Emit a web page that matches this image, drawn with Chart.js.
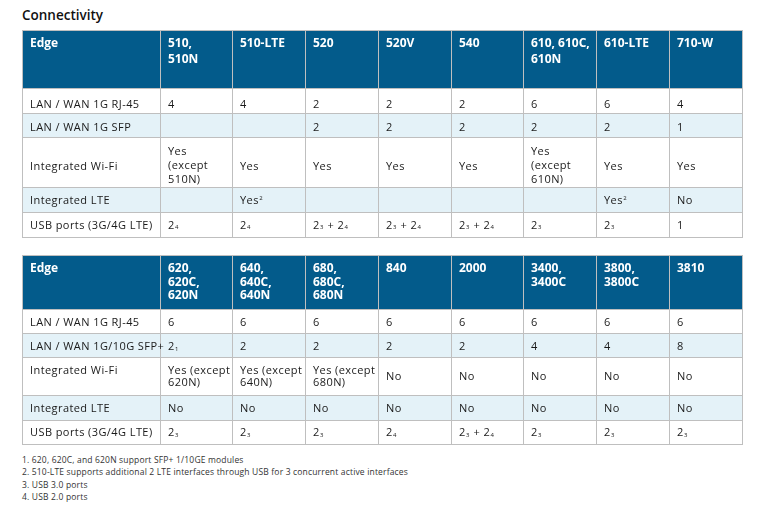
<!DOCTYPE html>
<html>
<head>
<meta charset="utf-8">
<script src="https://cdn.jsdelivr.net/npm/chart.js@4.4.1/dist/chart.umd.min.js"></script>
<style>
  html, body { margin: 0; padding: 0; background: #ffffff; width: 762px; height: 511px; overflow: hidden; }
  body { font-family: 'Open Sans', sans-serif; position: relative; }
  #title { position: absolute; left: 22px; top: 8px; font-size: 13.5px; line-height: 14px; font-weight: 600; color: #111111; white-space: nowrap; }
  .wrap { position: absolute; left: 22px; }
  .wrap canvas { display: block; }
  #notes { position: absolute; left: 22px; top: 454px; font-size: 8.5px; color: #333333; letter-spacing: 0.17px; }
  #notes div { height: 12.3px; line-height: 12.3px; white-space: nowrap; }
</style>
</head>
<body>
<div id="title">Connectivity</div>
<div class="wrap" style="top:30px"><canvas id="table1" width="721" height="208" style="width:721px;height:208px"></canvas></div>
<div class="wrap" style="top:255px"><canvas id="table2" width="721" height="190" style="width:721px;height:190px"></canvas></div>
<div id="notes"></div>

<script>
// ---------------- data ----------------
const titleText = "Connectivity";
const edgeLabel = "Edge";

// Table 1
const models1 = ["510,\n510N", "510-LTE", "520", "520V", "540", "610, 610C,\n610N", "610-LTE", "710-W"];
const rowLabels1 = ["LAN / WAN 1G RJ-45", "LAN / WAN 1G SFP", "Integrated Wi-Fi", "Integrated LTE", "USB ports (3G/4G LTE)"];
const rj45Ports1 = ["4", "4", "2", "2", "2", "6", "6", "4"];
const sfpPorts1  = ["", "", "2", "2", "2", "2", "2", "1"];
const wifi1      = ["Yes\n(except\n510N)", "Yes", "Yes", "Yes", "Yes", "Yes\n(except\n610N)", "Yes", "Yes"];
const lte1       = ["", "Yes^2", "", "", "", "", "Yes^2", "No"];
const usb1       = ["2_4", "2_4", "2_3 + 2_4", "2_3 + 2_4", "2_3 + 2_4", "2_3", "2_3", "1"];

// Table 2
const models2 = ["620,\n620C,\n620N", "640,\n640C,\n640N", "680,\n680C,\n680N", "840", "2000", "3400,\n3400C", "3800,\n3800C", "3810"];
const rowLabels2 = ["LAN / WAN 1G RJ-45", "LAN / WAN 1G/10G SFP+", "Integrated Wi-Fi", "Integrated LTE", "USB ports (3G/4G LTE)"];
const rj45Ports2 = ["6", "6", "6", "6", "6", "6", "6", "6"];
const sfpPorts2  = ["2_1", "2", "2", "2", "2", "4", "4", "8"];
const wifi2      = ["Yes (except\n620N)", "Yes (except\n640N)", "Yes (except\n680N)", "No", "No", "No", "No", "No"];
const lte2       = ["No", "No", "No", "No", "No", "No", "No", "No"];
const usb2       = ["2_3", "2_3", "2_3", "2_4", "2_3 + 2_4", "2_3", "2_3", "2_3"];

const footnotes = [
  "1. 620, 620C, and 620N support SFP+ 1/10GE modules",
  "2. 510-LTE supports additional 2 LTE interfaces through USB for 3 concurrent active interfaces",
  "3. USB 3.0 ports",
  "4. USB 2.0 ports"
];

// ---------------- layout / style ----------------
const FONT = "'Open Sans', sans-serif";
const BODY_SIZE = 11, HEAD_SIZE = 12, SMALL_SIZE = 6;
const BODY_SPACING = '0.42px', HEAD_SPACING = '0px';
const HEAD_BG = "#035b8b", ALT_BG = "#e4f2f8", BODY_BG = "#ffffff", GRID = "#bfbfbf";
const BODY_COLOR = "#1a1a1a", HEAD_COLOR = "#ffffff";
const PAD_X = 8;
const COL_EDGES = [0, 138, 210, 283, 356, 429, 501, 574, 647, 721];
const LAYOUT1 = { heights: [58, 25, 24, 50, 25, 26], headFirst: 13, headLH: 15.5,
                  shift: [0, 3.5, 2.5, 4.3, 0.5, 0], multiShift: 2.6, bodyLH: 14, topRow: -1 };
const LAYOUT2 = { heights: [54, 24, 24, 38, 25, 25], headFirst: 12.5, headLH: 13.8,
                  shift: [0, 1, 1.5, 0.5, 1, 0], multiShift: 0, bodyLH: 11.6, topRow: 3, topFirst: 13.4 };

// ---------------- text helpers ----------------
function drawRich(ctx, text, x, baseline, size, weight, color, spacing) {
  const parts = text.split(/([_^]\d)/);
  let cx = x;
  ctx.fillStyle = color;
  ctx.textBaseline = 'alphabetic';
  ctx.textAlign = 'left';
  if ('letterSpacing' in ctx) ctx.letterSpacing = spacing;
  for (const part of parts) {
    if (!part) continue;
    if (part[0] === '_' || part[0] === '^') {
      ctx.font = `${weight} ${SMALL_SIZE}px ${FONT}`;
      const dy = part[0] === '_' ? 0.3 : -3.6;
      ctx.fillText(part[1], cx + 0.4, baseline + dy);
      cx += ctx.measureText(part[1]).width + 0.6;
    } else {
      ctx.font = `${weight} ${size}px ${FONT}`;
      ctx.fillText(part, cx, baseline);
      cx += ctx.measureText(part).width;
    }
  }
  if ('letterSpacing' in ctx) ctx.letterSpacing = '0px';
}

function capCenters(layout, r, top, h, n, isLabel) {
  const out = [];
  if (r === 0) {
    for (let i = 0; i < n; i++) out.push(top + layout.headFirst + i * layout.headLH);
    return out;
  }
  if (layout.topRow === r && (n > 1 || isLabel)) {
    for (let i = 0; i < n; i++) out.push(top + layout.topFirst + i * layout.bodyLH);
    return out;
  }
  const c = top + h / 2;
  if (n === 1) return [c + layout.shift[r]];
  const mid = c + layout.multiShift;
  for (let i = 0; i < n; i++) out.push(mid + (i - (n - 1) / 2) * layout.bodyLH);
  return out;
}

const cellTextPlugin = {
  id: 'cellText',
  afterDatasetsDraw(chart, args, opts) {
    const ctx = chart.ctx;
    const layout = opts.layout;
    ctx.save();
    chart.data.datasets.forEach((ds, r) => {
      const meta = chart.getDatasetMeta(r);
      meta.data.forEach((el, c) => {
        const text = ds.cellText[c];
        if (!text) return;
        const p = el.getProps(['x', 'y', 'base', 'height'], true);
        const left = Math.min(p.x, p.base);
        const top = p.y - p.height / 2;
        const lines = text.split('\n');
        const isHead = r === 0;
        const size = isHead ? HEAD_SIZE : BODY_SIZE;
        const weight = isHead ? 700 : 400;
        const color = isHead ? HEAD_COLOR : BODY_COLOR;
        const spacing = isHead ? HEAD_SPACING : BODY_SPACING;
        const centers = capCenters(layout, r, top, p.height, lines.length, c === 0);
        lines.forEach((line, i) => {
          drawRich(ctx, line, left + PAD_X, centers[i] + size * 0.714 / 2, size, weight, color, spacing);
        });
      });
    });
    ctx.restore();
  }
};

// ---------------- build tables ----------------
function makeTable(canvasId, models, rowLabels, rows, layout) {
  const allRows = [[edgeLabel, ...models]].concat(rowLabels.map((l, i) => [l, ...rows[i]]));
  const W = COL_EDGES[COL_EDGES.length - 1];
  const H = layout.heights.reduce((a, b) => a + b, 0);
  let acc = 0;
  const datasets = allRows.map((cells, r) => {
    const h = layout.heights[r];
    const top = acc;
    acc += h;
    const last = r === allRows.length - 1;
    return {
      label: 'row ' + r,
      data: cells.map((_, c) => ({ x: [COL_EDGES[c], COL_EDGES[c + 1]], y: top + h / 2 })),
      cellText: cells,
      barThickness: h,
      stack: 'table',
      backgroundColor: r === 0 ? HEAD_BG : (r % 2 === 0 ? ALT_BG : BODY_BG),
      borderColor: GRID,
      borderSkipped: false,
      inflateAmount: 0,
      borderWidth: (ctx) => ({ top: 1, left: 1, right: ctx.dataIndex === cells.length - 1 ? 1 : 0, bottom: last ? 1 : 0 })
    };
  });
  return new Chart(document.getElementById(canvasId), {
    type: 'bar',
    data: { datasets },
    plugins: [cellTextPlugin],
    options: {
      indexAxis: 'y',
      responsive: false,
      maintainAspectRatio: false,
      devicePixelRatio: 1,
      animation: false,
      events: [],
      layout: { padding: 0 },
      scales: {
        x: { type: 'linear', min: 0, max: W, stacked: false, display: false, grid: { display: false } },
        y: { type: 'linear', min: 0, max: H, reverse: true, offset: false, display: false, grid: { display: false } }
      },
      plugins: {
        legend: { display: false },
        tooltip: { enabled: false },
        title: { display: false },
        cellText: { layout }
      }
    }
  });
}

document.getElementById('title').textContent = titleText;
const notesEl = document.getElementById('notes');
footnotes.forEach(t => { const d = document.createElement('div'); d.textContent = t; notesEl.appendChild(d); });

makeTable('table1', models1, rowLabels1, [rj45Ports1, sfpPorts1, wifi1, lte1, usb1], LAYOUT1);
makeTable('table2', models2, rowLabels2, [rj45Ports2, sfpPorts2, wifi2, lte2, usb2], LAYOUT2);
</script>
</body>
</html>
